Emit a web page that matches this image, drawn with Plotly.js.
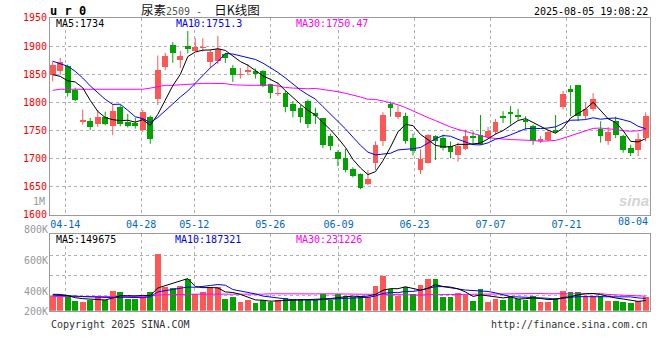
<!DOCTYPE html>
<html><head><meta charset="utf-8">
<script src="https://cdn.plot.ly/plotly-3.0.1.min.js"></script>
<style>html,body{margin:0;padding:0;background:#fff}#chart{width:660px;height:360px}</style>
</head><body><div id="chart"></div>
<script>
// ---- data (urea futures ur0, daily K) ----
const tradeDates = ['04-10','04-11','04-14','04-15','04-16','04-17','04-18','04-21','04-22','04-23','04-24','04-25','04-28','04-29','04-30',
 '05-06','05-07','05-08','05-09','05-12','05-13','05-14','05-15','05-16','05-19','05-20','05-21','05-22','05-23','05-26','05-27','05-28','05-29','05-30',
 '06-03','06-04','06-05','06-06','06-09','06-10','06-11','06-12','06-13','06-16','06-17','06-18','06-19','06-20','06-23','06-24','06-25','06-26','06-27','06-30',
 '07-01','07-02','07-03','07-04','07-07','07-08','07-09','07-10','07-11','07-14','07-15','07-16','07-17','07-18','07-21','07-22','07-23','07-24','07-25','07-28','07-29','07-30','07-31',
 '08-01','08-04','08-05'];
const openP  = [1848,1855,1865,1821,1764,1767,1761,1774,1757,1791,1764,1763,1750,1773,1805,1862,1901,1875,1900,1892,
                1897,1871,1874,1886,1860,1848,1853,1855,1855,1832,1814,1816,1796,1789,1802,1781,1771,1739,1712,1701,
                1681,1672,1654,1691,1730,1797,1773,1776,1736,1680,1692,1740,1736,1722,1706,1717,1740,1742,1738,1746,
                1776,1782,1778,1769,1758,1731,1733,1751,1791,1823,1830,1775,1788,1752,1730,1766,1740,1719,1714,1736];
const highP  = [1872,1879,1867,1826,1787,1772,1786,1783,1797,1795,1779,1772,1786,1776,1883,1888,1907,1891,1927,1914,
                1914,1894,1918,1888,1866,1861,1868,1860,1857,1833,1835,1820,1802,1795,1805,1790,1772,1744,1714,1717,
                1684,1673,1679,1730,1782,1801,1794,1781,1744,1716,1743,1741,1742,1730,1728,1751,1748,1777,1756,1770,
                1784,1793,1788,1775,1760,1740,1751,1777,1820,1830,1830,1799,1816,1766,1756,1774,1742,1724,1745,1782];
const lowP   = [1837,1848,1810,1802,1760,1750,1756,1759,1741,1757,1755,1753,1747,1726,1795,1857,1870,1861,1887,1890,
                1890,1861,1868,1870,1836,1842,1848,1842,1827,1807,1811,1782,1773,1763,1754,1761,1718,1714,1686,1675,
                1666,1645,1652,1679,1722,1774,1770,1726,1705,1672,1691,1697,1714,1700,1694,1715,1724,1724,1735,1742,
                1763,1760,1769,1751,1724,1727,1730,1745,1787,1775,1766,1769,1784,1728,1724,1736,1710,1704,1704,1730];
const closeP = [1867,1872,1816,1804,1769,1755,1774,1761,1785,1761,1758,1757,1783,1735,1858,1883,1888,1883,1894,1899,
                1899,1890,1894,1879,1848,1851,1857,1850,1829,1816,1817,1791,1785,1773,1762,1775,1723,1722,1698,1679,
                1668,1647,1663,1724,1777,1789,1782,1730,1713,1699,1742,1731,1718,1712,1722,1740,1736,1726,1749,1765,
                1771,1779,1773,1765,1731,1735,1746,1746,1814,1818,1775,1787,1805,1739,1746,1742,1714,1710,1734,1775];
const volume = [215000,200000,215000,150000,125000,165000,200000,165000,300000,285000,
                180000,180000,205000,285000,855000,355000,345000,375000,480000,255000,
                275000,350000,350000,180000,210000,135000,165000,120000,155000,135000,
                165000,190000,175000,175000,155000,155000,255000,165000,255000,215000,
                200000,220000,210000,375000,525000,325000,215000,355000,255000,390000,
                480000,480000,210000,210000,260000,240000,150000,330000,135000,180000,
                165000,220000,175000,165000,225000,135000,135000,195000,300000,285000,
                275000,215000,215000,225000,150000,150000,135000,120000,145000,210000];
// moving-average values before enough history exists
const priceMA5Head  = [1849,1846,1838,1836];
const priceMA10Head = [1873,1869,1864,1855,1843,1829,1817,1805,1796];
const priceMA30Head = [1821,1823,1823,1823,1823,1823,1823,1823,1823,1823,1823,1823,1823,1825,1828,1830,1830,1831,1832,1833.5,
                       1833.5,1833.5,1833.5,1833,1831,1830,1830,1830,1830];
const volMA5Head  = [246000,244000,228000,195000];
const volMA10Head = [232000,230000,226000,220000,212000,205000,198000,192000,195000];
const volMA30Head = [212000,212000,212000,212000,212000,212000,212000,212000,212000,212000,212000,212000,212000,215000,236000,
                     240000,242000,244000,248000,248000,248000,250000,252000,250000,250000,248000,248000,246000,248000];
const tickDates = ['04-14','04-28','05-12','05-26','06-09','06-23','07-07','07-21','08-04'];
const priceTicks = [1600,1650,1700,1750,1800,1850,1900,1950];
const volTickLabels = ['800K','600K','400K','200K'];
const volGridValues = [235000,535000,835000];

// ---- helpers ----
const RED = '#ff5656', GREEN = '#00a300';
const MONO = 'DejaVu Sans Mono, Liberation Mono, monospace';
function movingAverage(vals, n, head) {
  return vals.map((v, i) => {
    if (i < n - 1) return head[i];
    let s = 0; for (let k = i - n + 1; k <= i; k++) s += vals[k];
    return s / n;
  });
}
const W = 660, H = 360;
const px = x => x / W, py = y => 1 - y / H;

const idx = tradeDates.map((d, i) => i);
const up = idx.map(i => closeP[i] >= openP[i]);
const colors = up.map(u => u ? RED : GREEN);

// candle bodies
const bodyBase = idx.map(i => Math.min(openP[i], closeP[i]));
const bodyLen = idx.map(i => Math.max(Math.abs(closeP[i] - openP[i]), 0.8));
// wicks
function wicks(sel) {
  const x = [], y = [];
  idx.forEach(i => { if (up[i] === sel) { x.push(i, i, null); y.push(lowP[i], highP[i], null); } });
  return {x, y};
}
const wUp = wicks(true), wDn = wicks(false);

const traces = [
  {type:'scatter', mode:'lines', x:wUp.x, y:wUp.y, line:{color:RED, width:1}, hoverinfo:'skip', xaxis:'x', yaxis:'y'},
  {type:'scatter', mode:'lines', x:wDn.x, y:wDn.y, line:{color:GREEN, width:1}, hoverinfo:'skip', xaxis:'x', yaxis:'y'},
  {type:'bar', x:idx, y:bodyLen, base:bodyBase, width:0.76, marker:{color:colors, line:{width:0}}, xaxis:'x', yaxis:'y'},
  {type:'scatter', mode:'lines', x:idx, y:movingAverage(closeP,30,priceMA30Head), line:{color:'#ff00ff', width:1}, xaxis:'x', yaxis:'y'},
  {type:'scatter', mode:'lines', x:idx, y:movingAverage(closeP,10,priceMA10Head), line:{color:'#0000ff', width:1}, xaxis:'x', yaxis:'y'},
  {type:'scatter', mode:'lines', x:idx, y:movingAverage(closeP,5,priceMA5Head), line:{color:'#000000', width:1}, xaxis:'x', yaxis:'y'},
  {type:'bar', x:idx, y:volume, width:0.76, marker:{color:colors, line:{width:0}}, xaxis:'x2', yaxis:'y2'},
  {type:'scatter', mode:'lines', x:idx, y:movingAverage(volume,30,volMA30Head), line:{color:'#ff00ff', width:1}, xaxis:'x2', yaxis:'y2'},
  {type:'scatter', mode:'lines', x:idx, y:movingAverage(volume,10,volMA10Head), line:{color:'#0000ff', width:1}, xaxis:'x2', yaxis:'y2'},
  {type:'scatter', mode:'lines', x:idx, y:movingAverage(volume,5,volMA5Head), line:{color:'#000000', width:1}, xaxis:'x2', yaxis:'y2'}
];

// date gridlines follow the sina layout (slot width 600/79 px from the left frame)
const candleStep = 7.506, firstCandle = 2.7;
const gridPos = tickDates.map(d => (tradeDates.indexOf(d) * 600 / 79 - firstCandle) / candleStep);
const xRange = [-firstCandle / candleStep, (600 - firstCandle) / candleStep];
const gridShown = gridPos.slice(0, -1), labelsShown = tickDates.slice(0, -1);

const grid = {showgrid:true, gridcolor:'#b0b0b0', griddash:'dot', gridwidth:1, zeroline:false,
              showline:true, linecolor:'#9a9a9a', linewidth:1, mirror:true, ticks:''};

function ann(text, x, y, xanchor, color, size, extra) {
  return Object.assign({text, x:px(x), y:py(y), xref:'paper', yref:'paper', xanchor, yanchor:'middle',
    showarrow:false, font:{family:MONO, size:size || 10, color}}, extra || {});
}

const NB = '\u00a0';
const annotations = [
  ann('<b>u r 0</b>', 48, 11, 'left', '#000', 12),
  ann('尿素<span style="font-family:DejaVu Sans Mono;font-size:10px;color:#555">2509' + NB + '-' + NB + NB + '</span>日K线图',
      139, 9, 'left', '#111', 12.5,
      {font:{family:'Noto Sans CJK SC, sans-serif', size:12.5, color:'#111'}}),
  ann('2025-08-05 19:08:22', 650, 12, 'right', '#000', 10),
  ann('MA5:1734', 54, 24, 'left', '#000', 10),
  ann('MA10:1751.3', 174, 24, 'left', '#0000ff', 10),
  ann('MA30:1750.47', 294, 24, 'left', '#ff00ff', 10),
  ann('MA5:149675', 54, 239, 'left', '#000', 10),
  ann('MA10:187321', 173, 239, 'left', '#0000ff', 10),
  ann('MA30:231226', 294, 239, 'left', '#ff00ff', 10),
  ann('1M', 47, 201, 'right', '#999', 10),
  ann(tickDates[tickDates.length - 1], 650, 221, 'right', '#0066cc', 10),
  ann('Copyright 2025 SINA.COM', 49, 324, 'left', '#333', 10),
  ann('http://finance.sina.com.cn', 650, 324, 'right', '#333', 10),
  ann('<b><i>sina</i></b>', 634, 200, 'center', '#d4d4d4', 15, {font:{family:'Liberation Sans, sans-serif', size:15, color:'#d4d4d4'}})
];
const volLabelY = [230, 260, 291, 311];
volTickLabels.forEach((t, k) => annotations.push(ann(t, 50, volLabelY[k], 'right', '#999', 10)));

const layout = {
  width:W, height:H, margin:{l:0, r:0, t:0, b:0}, paper_bgcolor:'#fff', plot_bgcolor:'#fff',
  showlegend:false, barmode:'overlay', bargap:0,
  xaxis: Object.assign({}, grid, {domain:[px(50), px(650)], range:xRange, anchor:'y',
    tickmode:'array', tickvals:gridShown, ticktext:labelsShown,
    tickfont:{family:MONO, size:10, color:'#0066cc'}}),
  yaxis: Object.assign({}, grid, {domain:[py(214.5), py(17.9)], range:[1599.9, 1950.1], anchor:'x',
    tickmode:'array', tickvals:priceTicks, ticktext:priceTicks.map(String),
    tickfont:{family:MONO, size:10, color:'#ff0000'}}),
  xaxis2: Object.assign({}, grid, {domain:[px(50), px(650)], range:xRange, anchor:'y2',
    tickmode:'array', tickvals:gridShown, showticklabels:false}),
  yaxis2: Object.assign({}, grid, {domain:[py(310.7), py(234.3)], range:[0, 1146000], anchor:'x2',
    tickmode:'array', tickvals:volGridValues, showticklabels:false}),
  annotations
};
Plotly.newPlot('chart', traces, layout, {displayModeBar:false, staticPlot:true});
</script></body></html>
